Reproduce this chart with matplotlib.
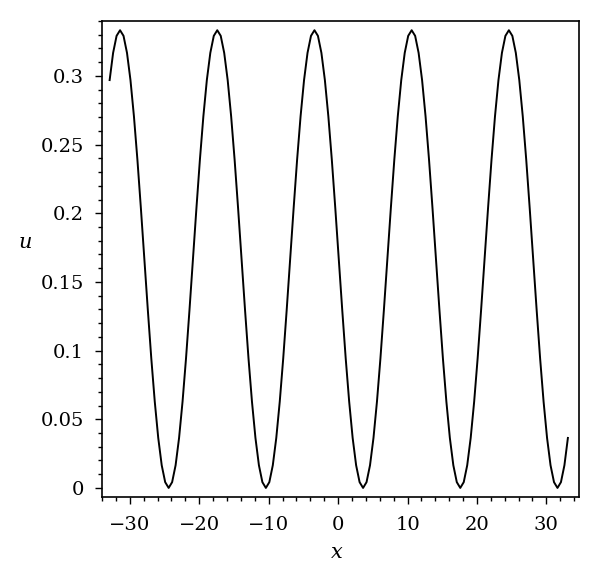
import matplotlib
matplotlib.use("Agg")
from matplotlib import pyplot as plt
from matplotlib.ticker import MultipleLocator
import numpy as np

# sample grid of the curve
x_start = -32.9
x_end = 33.1
u = [
    0.2970, 0.3168, 0.3292,
    # peak near -31.4
    0.3333, 0.3292, 0.3168, 0.2970, 0.2706, 0.2390, 0.2037, 0.1667, 0.1296, 0.0943,
    0.0628, 0.0364, 0.0165, 0.0042, 0.0000, 0.0042, 0.0165, 0.0364, 0.0628, 0.0943,
    0.1296, 0.1667, 0.2037, 0.2390, 0.2706, 0.2970, 0.3168, 0.3292,
    # peak near -17.4
    0.3333, 0.3292, 0.3168, 0.2970, 0.2706, 0.2390, 0.2037, 0.1667, 0.1296, 0.0943,
    0.0628, 0.0364, 0.0165, 0.0042, 0.0000, 0.0042, 0.0165, 0.0364, 0.0628, 0.0943,
    0.1296, 0.1667, 0.2037, 0.2390, 0.2706, 0.2970, 0.3168, 0.3292,
    # peak near -3.4
    0.3333, 0.3292, 0.3168, 0.2970, 0.2706, 0.2390, 0.2037, 0.1667, 0.1296, 0.0943,
    0.0628, 0.0364, 0.0165, 0.0042, 0.0000, 0.0042, 0.0165, 0.0364, 0.0628, 0.0943,
    0.1296, 0.1667, 0.2037, 0.2390, 0.2706, 0.2970, 0.3168, 0.3292,
    # peak near 10.6
    0.3333, 0.3292, 0.3168, 0.2970, 0.2706, 0.2390, 0.2037, 0.1667, 0.1296, 0.0943,
    0.0628, 0.0364, 0.0165, 0.0042, 0.0000, 0.0042, 0.0165, 0.0364, 0.0628, 0.0943,
    0.1296, 0.1667, 0.2037, 0.2390, 0.2706, 0.2970, 0.3168, 0.3292,
    # peak near 24.6
    0.3333, 0.3292, 0.3168, 0.2970, 0.2706, 0.2390, 0.2037, 0.1667, 0.1296, 0.0943,
    0.0628, 0.0364, 0.0165, 0.0042, 0.0000, 0.0042, 0.0165, 0.0364,
]
x = np.linspace(x_start, x_end, len(u))

x_ticks = [-30, -20, -10, 0, 10, 20, 30]
y_ticks = [0, 0.05, 0.1, 0.15, 0.2, 0.25, 0.3]
y_labels = ["0", "0.05", "0.1", "0.15", "0.2", "0.25", "0.3"]

plt.rcParams['font.family'] = ['DejaVu Serif']

fig = plt.figure(figsize=(6, 5.84), dpi=100)
ax = fig.add_axes([0.17, 0.149, 0.795, 0.815])

ax.plot(x, u, color='black', linewidth=1.4)

ax.set_xlim(-34.0, 34.7)
ax.set_ylim(-0.0066, 0.340)
ax.set_xticks(x_ticks)
ax.set_yticks(y_ticks)
ax.set_yticklabels(y_labels)
ax.xaxis.set_minor_locator(MultipleLocator(2))
ax.yaxis.set_minor_locator(MultipleLocator(0.01))
ax.tick_params(which='both', direction='out', top=False, right=False,
               labelsize=14)
ax.tick_params(axis='y', pad=8)
ax.tick_params(axis='x', pad=9)
ax.tick_params(which='major', length=5, width=1)
ax.tick_params(which='minor', length=3, width=1)
for s in ax.spines.values():
    s.set_linewidth(1.2)

fig.text(337 / 600, 1 - 552 / 584, "x", fontsize=15, style='italic',
         ha='center', va='center')
fig.text(25 / 600, 1 - 243 / 584, "u", fontsize=15, style='italic',
         ha='center', va='center')

fig.savefig("out.png", dpi=100)
